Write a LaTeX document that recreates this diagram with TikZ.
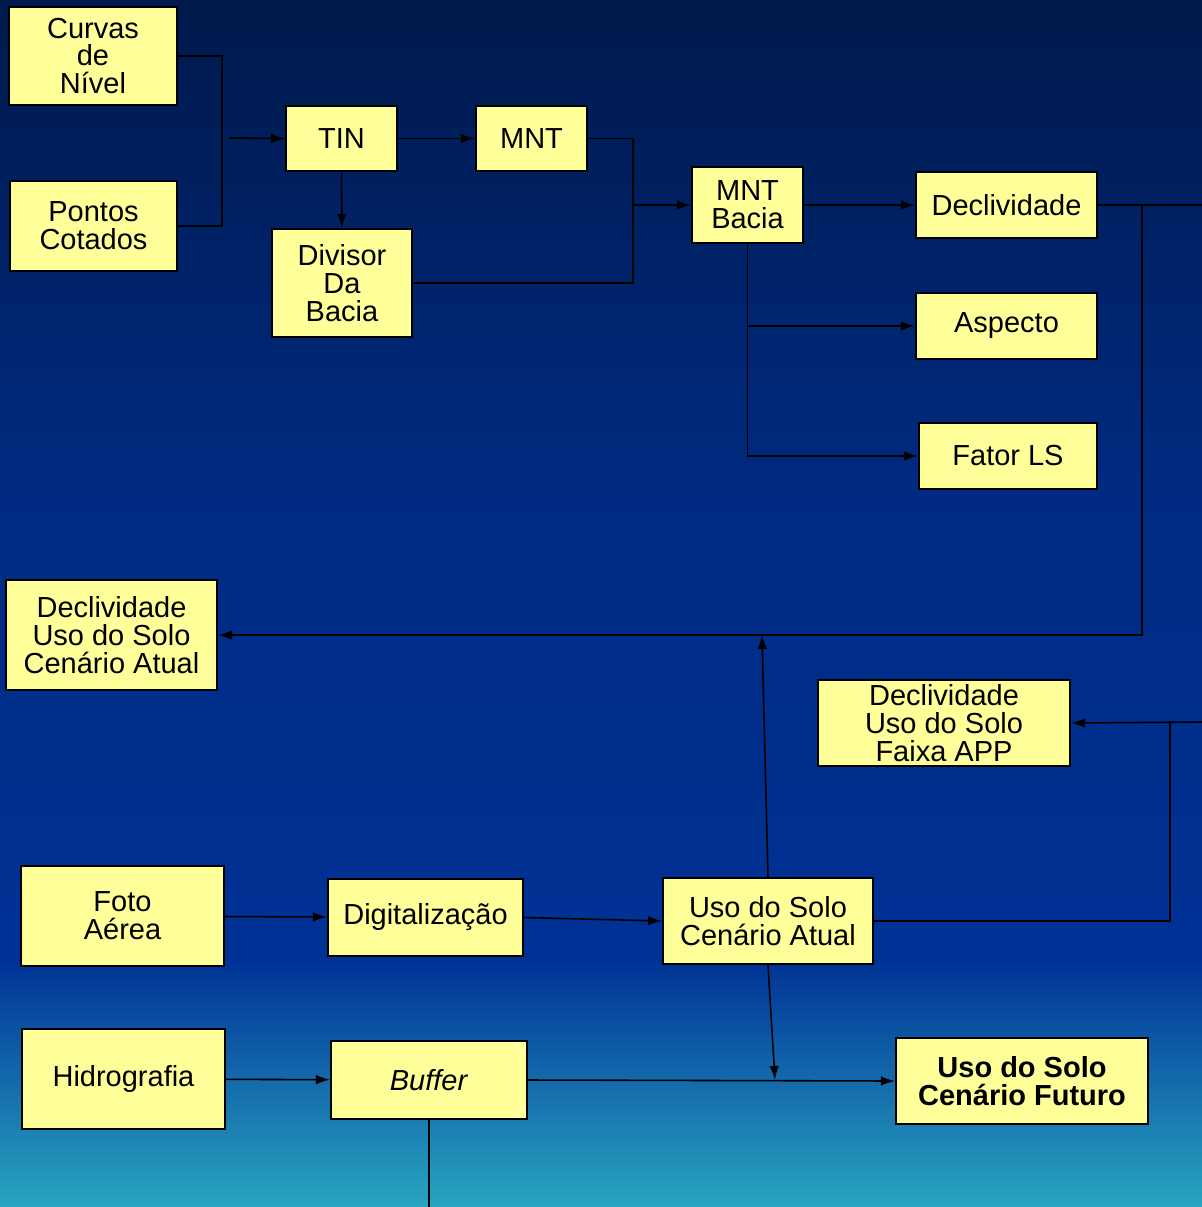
\documentclass[tikz,border=0pt]{standalone}
\usepackage{fontspec}
\setmainfont{Liberation Sans}
\usepackage{tikz}
\usetikzlibrary{positioning, arrows.meta, calc}

\definecolor{amarelo}{RGB}{255,255,153}
\definecolor{fundoA}{RGB}{0,25,75}
\definecolor{fundoM}{RGB}{0,42,128}
\definecolor{fundoB}{RGB}{0,50,150}
\definecolor{fundoC}{RGB}{40,165,192}

\begin{document}
\begin{tikzpicture}[
    x=0.02cm, y=-0.02cm,
    caixa/.style={draw=black, line width=1.2pt, fill=amarelo, align=center, inner sep=0pt, font=\fontsize{16.5}{15.9}\selectfont},
    seta/.style={line width=0.9pt, -{Latex[length=2.8mm,width=1.9mm]}},
    linha/.style={line width=0.9pt}
]
    % Fundo
    \useasboundingbox (0,0) rectangle (1202,1207);
    \shade[top color=fundoA, bottom color=fundoM] (0,0) rectangle (1202,480);
    \shade[top color=fundoM, bottom color=fundoB] (0,480) rectangle (1202,960);
    \shade[top color=fundoB, bottom color=fundoC] (0,960) rectangle (1202,1207);

    % Nodes
    \node[caixa, minimum width=3.36cm, minimum height=1.96cm] (curvas) at (93, 56) {Curvas\\de\\Nível};
    \node[caixa, minimum width=3.34cm, minimum height=1.8cm] (pontos) at (93.5, 226) {Pontos\\Cotados};
    \node[caixa, minimum width=2.22cm, minimum height=1.3cm] (tin) at (341.5, 138.5) {TIN};
    \node[caixa, minimum width=2.22cm, minimum height=1.3cm] (mnt) at (531.5, 138.5) {MNT};
    \node[caixa, minimum width=2.8cm, minimum height=2.16cm] (divisor) at (342, 283) {Divisor\\Da\\Bacia};
    \node[caixa, minimum width=2.22cm, minimum height=1.52cm] (mntbacia) at (747.5, 205) {MNT\\Bacia};
    \node[caixa, minimum width=3.62cm, minimum height=1.32cm] (decliv) at (1006.5, 205) {Declividade};
    \node[caixa, minimum width=3.62cm, minimum height=1.32cm] (aspecto) at (1006.5, 326) {Aspecto};
    \node[caixa, minimum width=3.56cm, minimum height=1.32cm] (fatorls) at (1008, 456) {Fator LS};
    \node[caixa, minimum width=4.22cm, minimum height=2.2cm] (declatual) at (111.5, 635) {Declividade\\Uso do Solo\\Cenário Atual};
    \node[caixa, minimum width=5.04cm, minimum height=1.72cm] (declapp) at (944, 723) {Declividade\\Uso do Solo\\Faixa APP};
    \node[caixa, minimum width=4.06cm, minimum height=2.0cm] (foto) at (122.5, 916) {Foto\\Aérea};
    \node[caixa, minimum width=3.9cm, minimum height=1.54cm] (digital) at (425.5, 917.5) {Digitalização};
    \node[caixa, minimum width=4.2cm, minimum height=1.72cm] (usoatual) at (768, 921) {Uso do Solo\\Cenário Atual};
    \node[caixa, minimum width=4.06cm, minimum height=2.0cm] (hidro) at (123.5, 1079) {Hidrografia};
    \node[caixa, minimum width=3.92cm, minimum height=1.56cm] (buffer) at (429, 1080) {\textit{Buffer}};
    \node[caixa, minimum width=5.04cm, minimum height=1.72cm, font=\fontsize{16.5}{15.9}\selectfont\bfseries] (futuro) at (1022, 1081) {Uso do Solo\\Cenário Futuro};

    % Pontos livres
    \coordinate (entrada) at (229, 138);
    \coordinate (juncao) at (632, 205);
    \coordinate (ramo1) at (1142, 205);
    \coordinate (borda1) at (1202, 205);
    \coordinate (ramo2) at (1170, 722);
    \coordinate (borda2) at (1202, 722);
    \coordinate (encontro1) at (762, 635);
    \coordinate (encontro2) at (775, 1080);
    \coordinate (borda3) at (429, 1207);

    % Connections
    \draw[linha] (curvas.east) -- ++(44,0) |- (pontos.east);
    \draw[seta] (entrada) -- (tin.west);
    \draw[seta] (tin) -- (mnt);
    \draw[seta] (tin) -- (divisor);
    \draw[linha] (mnt.east) -- ++(45,0) |- (divisor.east);
    \draw[seta] (juncao) -- (mntbacia.west);
    \draw[seta] (mntbacia) -- (decliv);
    \draw[seta] (mntbacia.south) |- (aspecto.west);
    \draw[seta] (mntbacia.south) |- (fatorls.west);
    \draw[linha] (decliv.east) -- (borda1);
    \draw[seta] (ramo1) |- (declatual.east);
    \draw[seta] (borda2) -- (declapp.east);
    \draw[linha] (usoatual.east) -| (ramo2);
    \draw[seta] (usoatual.north) -- (encontro1);
    \draw[seta] (foto) -- (digital);
    \draw[seta] (digital.east) -- (usoatual.west);
    \draw[seta] (usoatual.south) -- (encontro2);
    \draw[seta] (hidro) -- (buffer);
    \draw[seta] (buffer.east) -- (futuro.west);
    \draw[linha] (buffer.south) -- (borda3);
\end{tikzpicture}
\end{document}
